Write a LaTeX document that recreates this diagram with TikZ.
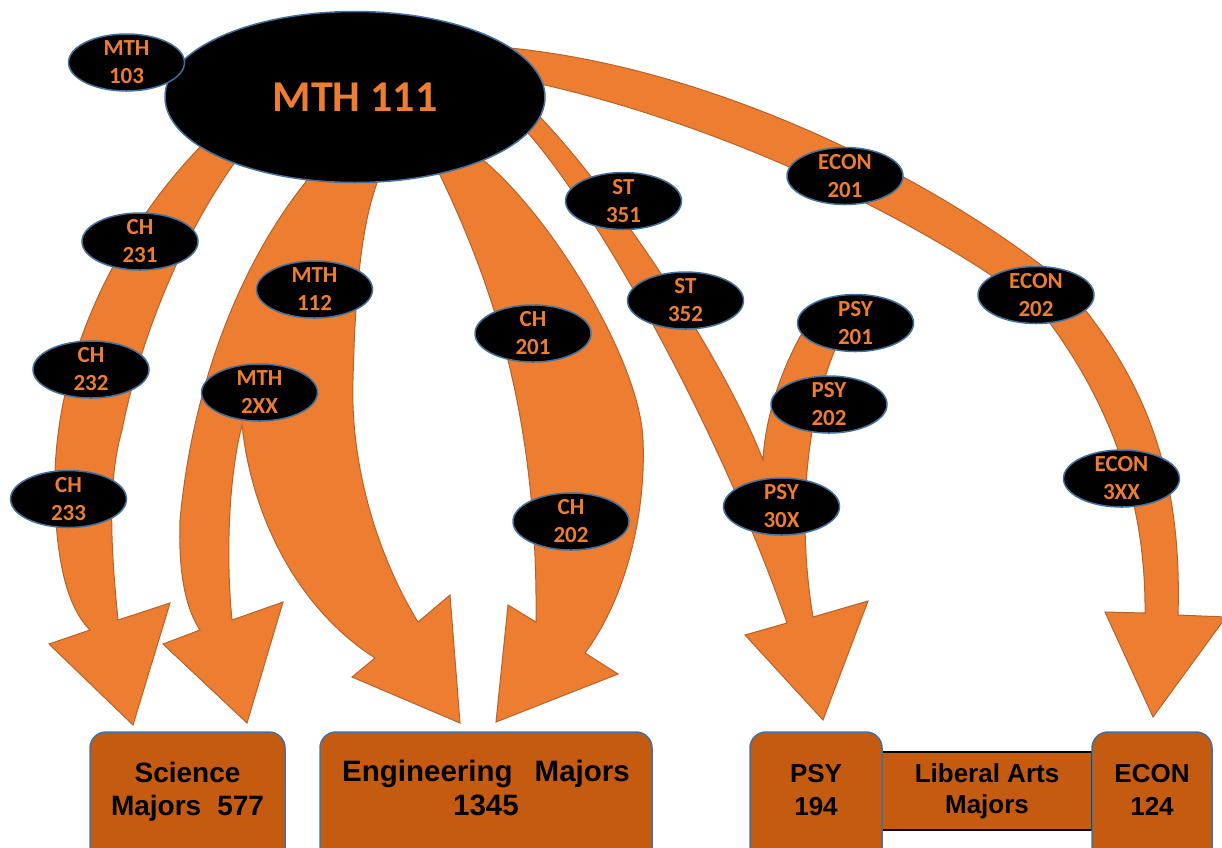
\documentclass[tikz,border=0pt]{standalone}
\usepackage{fontspec}
\newfontfamily\calib{Carlito}
\newfontfamily\arialf{Liberation Sans}
\usetikzlibrary{shapes.geometric}
\definecolor{arrfill}{HTML}{ED7D31}
\definecolor{arrline}{HTML}{B8622A}
\definecolor{boxfill}{HTML}{C55A11}
\definecolor{elline}{HTML}{41719C}
\tikzset{
  blockarrow/.style={fill=arrfill, draw=arrline, line width=1pt, line join=miter},
  ell/.style={ellipse, fill=black, draw=elline, line width=1.5pt, minimum width=116pt, minimum height=57pt, inner sep=0pt},
  lab/.style={font=\calib\bfseries\fontsize{23}{28}\selectfont, text=arrfill, align=center, inner sep=0pt},
  biglab/.style={font=\calib\bfseries\fontsize{44}{50}\selectfont, text=arrfill, align=center, inner sep=0pt},
  majbox/.style={rectangle, rounded corners=16pt, fill=boxfill, draw=elline, line width=1.5pt, inner sep=0pt, minimum height=148pt},
  boxtxt/.style={font=\arialf\bfseries\fontsize{26}{33}\selectfont, text=black, align=center, inner sep=0pt, yshift=16pt},
  libbox/.style={rectangle, fill=boxfill, draw=black, line width=1.5pt, inner sep=0pt, minimum width=210pt, minimum height=78pt, font=\arialf\bfseries\fontsize{26}{31}\selectfont, align=center}
}
\begin{document}
\begin{tikzpicture}[x=1pt,y=-1pt]
\useasboundingbox (0,0) rectangle (1222,847);
\clip (0,0) rectangle (1222,847);

% block arrows
\filldraw[blockarrow] (210,137) -- (200,147) .. controls (120,230) and (50,360) .. (55,500) .. controls (57,570) and (70,610) .. (90,630) -- (49,644) -- (133,725) -- (170,603) -- (118,620) .. controls (110,540) and (108,480) .. (122,430) .. controls (140,340) and (180,240) .. (233,165) -- (245,148) -- cycle;

\filldraw[blockarrow] (312,170) -- (305,183) .. controls (255,245) and (195,360) .. (180,520) .. controls (178,580) and (188,612) .. (200,630) -- (163,644) -- (247,723) -- (283,602) -- (232,620) .. controls (226,560) and (228,480) .. (242,425) .. controls (252,520) and (300,610) .. (375,658) -- (352,677) -- (460,723) -- (450,595) -- (418,622) .. controls (380,560) and (350,470) .. (353,380) .. controls (355,300) and (360,230) .. (377,183) -- (378,170) -- cycle;

\filldraw[blockarrow] (432,165) -- (440,175) .. controls (495,290) and (538,420) .. (536,622) -- (508,605) -- (496,722) -- (618,674) -- (585,653) .. controls (628,595) and (646,510) .. (643,440) .. controls (640,360) and (550,215) .. (483,160) -- (470,150) -- cycle;

\filldraw[blockarrow] (518,120) -- (528,133) .. controls (600,215) and (720,430) .. (787,623) -- (745,635) -- (823,720) -- (868,601) -- (813,617) .. controls (800,540) and (798,420) .. (845,328) -- (805,328) .. controls (780,370) and (765,420) .. (763,460) .. controls (720,350) and (610,190) .. (540,117) -- (530,105) -- cycle;

\filldraw[blockarrow] (490,55) -- (510,48) .. controls (730,70) and (950,190) .. (1060,280) .. controls (1150,380) and (1182,480) .. (1178,615) -- (1226,617) -- (1153,717) -- (1105,612) -- (1145,613) .. controls (1146,500) and (1110,400) .. (1040,310) .. controls (950,240) and (760,135) .. (545,85) -- (520,85) -- cycle;

% ellipses
\node[ell, minimum width=380pt, minimum height=171pt, label={[biglab]center:MTH 111}] (m111) at (355,97) {};
\node[ell, label={[lab]center:{MTH\\103}}] (m103) at (126.5,62.5) {};
\node[ell, label={[lab]center:{CH\\231}}] (c231) at (140,241.5) {};
\node[ell, label={[lab]center:{CH\\232}}] (c232) at (91,369.5) {};
\node[ell, label={[lab]center:{CH\\233}}] (c233) at (68.5,499) {};
\node[ell, label={[lab]center:{MTH\\112}}] (m112) at (314.5,289.5) {};
\node[ell, label={[lab]center:{MTH\\2XX}}] (m2xx) at (259.5,392.5) {};
\node[ell, label={[lab]center:{CH\\201}}] (c201) at (533,333.5) {};
\node[ell, label={[lab]center:{CH\\202}}] (c202) at (571,521.5) {};
\node[ell, label={[lab]center:{ST\\351}}] (s351) at (623.5,201) {};
\node[ell, label={[lab]center:{ST\\352}}] (s352) at (685.5,300.5) {};
\node[ell, label={[lab]center:{ECON\\201}}] (e201) at (845,176) {};
\node[ell, label={[lab]center:{ECON\\202}}] (e202) at (1036,295) {};
\node[ell, label={[lab]center:{ECON\\3XX}}] (e3xx) at (1121.5,478.5) {};
\node[ell, label={[lab]center:{PSY\\201}}] (p201) at (855.5,323) {};
\node[ell, label={[lab]center:{PSY\\202}}] (p202) at (829,404.5) {};
\node[ell, label={[lab]center:{PSY\\30X}}] (p30x) at (781.5,506.5) {};

% boxes
\node[libbox] (lib) at (987,791) {Liberal Arts\\Majors};
\node[majbox, minimum width=195pt, label={[boxtxt, yshift=-2pt, font=\arialf\bfseries\fontsize{28}{33}\selectfont]center:{Science\\Majors\hspace{16pt}577}}] (sci) at (187.5,806) {};
\node[majbox, minimum width=332pt, label={[boxtxt, yshift=2pt, font=\arialf\bfseries\fontsize{29.5}{34}\selectfont]center:{Engineering\hspace{22pt}Majors\\1345}}] (eng) at (486,806) {};
\node[majbox, minimum width=132pt, label={[boxtxt]center:{PSY\\194}}] (psy) at (816,806) {};
\node[majbox, minimum width=120pt, label={[boxtxt]center:{ECON\\124}}] (econ) at (1152,806) {};
\end{tikzpicture}
\end{document}
